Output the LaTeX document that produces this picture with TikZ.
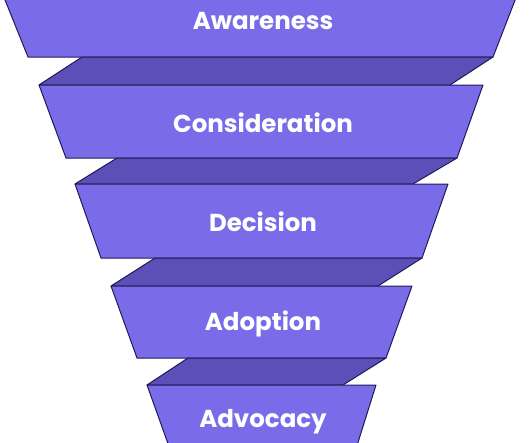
\documentclass[tikz,border=0pt]{standalone}
\usepackage{fontspec}
\setmainfont{Poppins}
\usetikzlibrary{positioning}

\definecolor{bandfill}{HTML}{7A6CE8}
\definecolor{foldfill}{HTML}{5D4FB8}
\definecolor{edgeline}{HTML}{201A58}

\begin{document}
\begin{tikzpicture}[
  x=1pt, y=-1pt,
  font=\bfseries\fontsize{24.5}{28}\selectfont,
  band/.style={draw=edgeline, fill=bandfill, line width=1pt, line join=round},
  fold/.style={draw=edgeline, fill=foldfill, line width=1pt, line join=round},
  stage/.style={text=white, inner sep=0pt, anchor=center},
]
\useasboundingbox (0,0) rectangle (530,442);
\clip (0,0) rectangle (530,442);

% front faces of the funnel
\draw[band] (1,-10) -- (519,-10) -- (493,57) -- (28,57) -- cycle;
\draw[fold] (82,57) -- (493,57) -- (450,85) -- (39,85) -- cycle;

\draw[band] (39,85) -- (483,85) -- (457,158) -- (66,158) -- cycle;
\draw[fold] (117,158) -- (457,158) -- (413,184) -- (75,184) -- cycle;

\draw[band] (75,184) -- (448,184) -- (422,258) -- (101,258) -- cycle;
\draw[fold] (155,258) -- (422,258) -- (378,286) -- (111,286) -- cycle;

\draw[band] (111,286) -- (412,286) -- (386,358) -- (137,358) -- cycle;
\draw[fold] (188,358) -- (386,358) -- (343,385) -- (147,385) -- cycle;

\draw[band] (147,385) -- (376,385) -- (355,452) -- (171,452) -- cycle;

% labels
\node[stage] (awareness) at (263,21) {Awareness};
\node[stage] (consideration) at (263,123) {Consideration};
\node[stage] (decision) at (263,222) {Decision};
\node[stage] (adoption) at (263,324) {Adoption};
\node[stage] (advocacy) at (263,422) {Advocacy};

\end{tikzpicture}
\end{document}
